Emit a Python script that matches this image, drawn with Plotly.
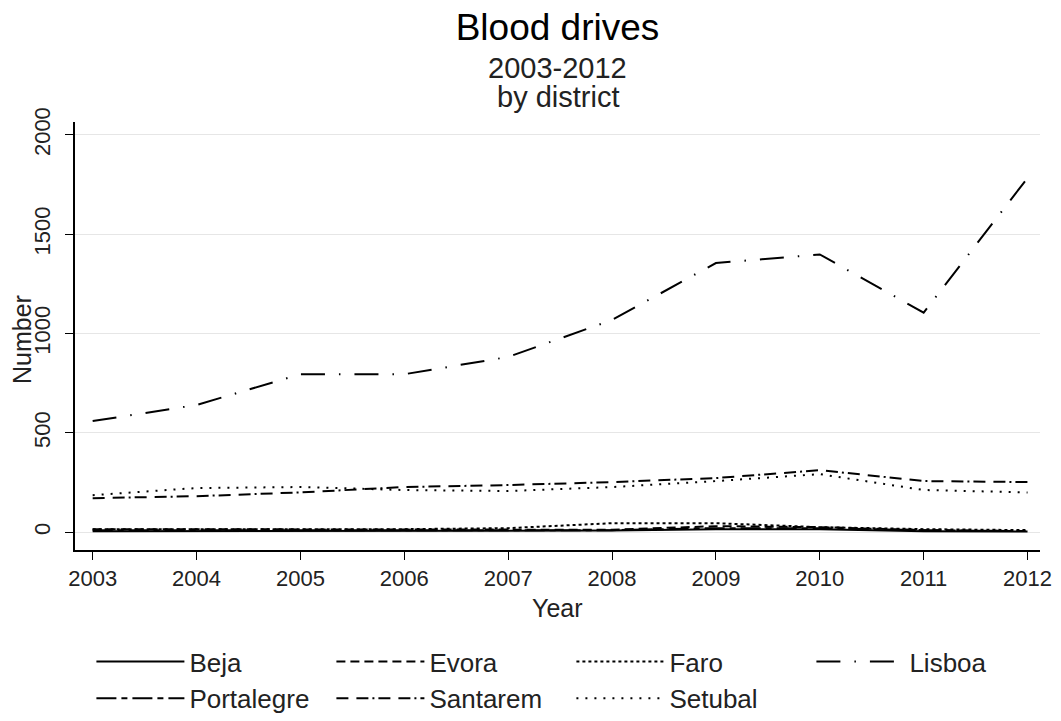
import plotly.graph_objects as go

years = [2003, 2004, 2005, 2006, 2007, 2008, 2009, 2010, 2011, 2012]

beja       = [5, 5, 5, 5, 5, 8, 15, 15, 5, 3]
evora      = [15, 15, 15, 15, 15, 12, 30, 25, 10, 5]
faro       = [15, 15, 15, 15, 20, 45, 45, 25, 15, 10]
lisboa     = [559, 640, 795, 795, 882, 1068, 1355, 1398, 1105, 1783]
portalegre = [10, 10, 10, 10, 10, 10, 20, 20, 10, 5]
santarem   = [171, 181, 200, 227, 237, 252, 272, 312, 257, 252]
setubal    = [186, 222, 227, 212, 207, 227, 257, 292, 212, 200]

series = [
    ("Beja", beja, "solid"),
    ("Evora", evora, "9px,5px"),
    ("Faro", faro, "3px,3px"),
    ("Lisboa", lisboa, "24px,14px,1.5px,14px"),
    ("Portalegre", portalegre, "20px,5px,6px,5px"),
    ("Santarem", santarem, "12px,8px,12px,4px,2px,4px"),
    ("Setubal", setubal, "2px,7px"),
]

FONT = "Liberation Sans, Arial, sans-serif"
TXT = "#222"

# plot area in pixels: left 75, right 1040, top 122, bottom 550
PT, PB = 122, 550
PH = PB - PT


def py(pix):
    return (PB - pix) / PH


fig = go.Figure()
for name, vals, dash in series:
    fig.add_trace(go.Scatter(
        x=years, y=vals, name=name, mode="lines",
        line=dict(color="black", width=2, dash=dash),
    ))

fig.update_layout(
    width=1061, height=721,
    paper_bgcolor="white", plot_bgcolor="white",
    margin=dict(l=75, r=21, t=PT, b=721 - PB, autoexpand=False),
    font=dict(family=FONT, size=22, color=TXT),
    title=dict(
        text="Blood drives",
        x=0.5, xanchor="center", xref="paper",
        y=1 - 27 / 721, yanchor="middle", yref="container",
        font=dict(size=37, color="black"),
    ),
    showlegend=True,
    legend=dict(
        orientation="h", x=0.017, xanchor="left", y=py(638), yanchor="top",
        entrywidth=137, entrywidthmode="pixels", itemwidth=88,
        font=dict(size=26, color=TXT), tracegroupgap=0,
        bgcolor="rgba(0,0,0,0)",
    ),
    xaxis=dict(
        range=[2002.83, 2012.12], tickvals=years, showgrid=False,
        showline=True, linecolor="black", linewidth=1.5,
        ticks="outside", ticklen=8, tickcolor="black",
        tickfont=dict(size=22, color=TXT),
        zeroline=False, automargin=False,
    ),
    yaxis=dict(
        range=[-90, 2065], tickvals=[0, 500, 1000, 1500, 2000],
        showgrid=True, gridcolor="#e6e6e6", gridwidth=1,
        showline=True, linecolor="black", linewidth=1.5,
        ticks="outside", ticklen=8, tickcolor="black", tickangle=-90,
        ticklabelstandoff=6,
        tickfont=dict(size=22, color=TXT),
        zeroline=False, automargin=False,
    ),
    annotations=[
        dict(text="2003-2012", x=0.5, xref="paper", y=py(68), yref="paper",
             xanchor="center", yanchor="middle", showarrow=False,
             font=dict(size=29, color=TXT)),
        dict(text="by district", x=0.5, xref="paper", y=py(97), yref="paper",
             xanchor="center", yanchor="middle", showarrow=False,
             font=dict(size=29, color=TXT)),
        dict(text="Year", x=0.5, xref="paper", y=py(608), yref="paper",
             xanchor="center", yanchor="middle", showarrow=False,
             font=dict(size=25, color=TXT)),
        dict(text="Number", x=(22 - 75) / 965, xref="paper", y=py(340), yref="paper",
             xanchor="center", yanchor="middle", showarrow=False, textangle=-90,
             font=dict(size=25, color=TXT)),
    ],
)

fig.write_html("out.html", config={"displayModeBar": False},
               post_script="document.body.style.margin='0';")
